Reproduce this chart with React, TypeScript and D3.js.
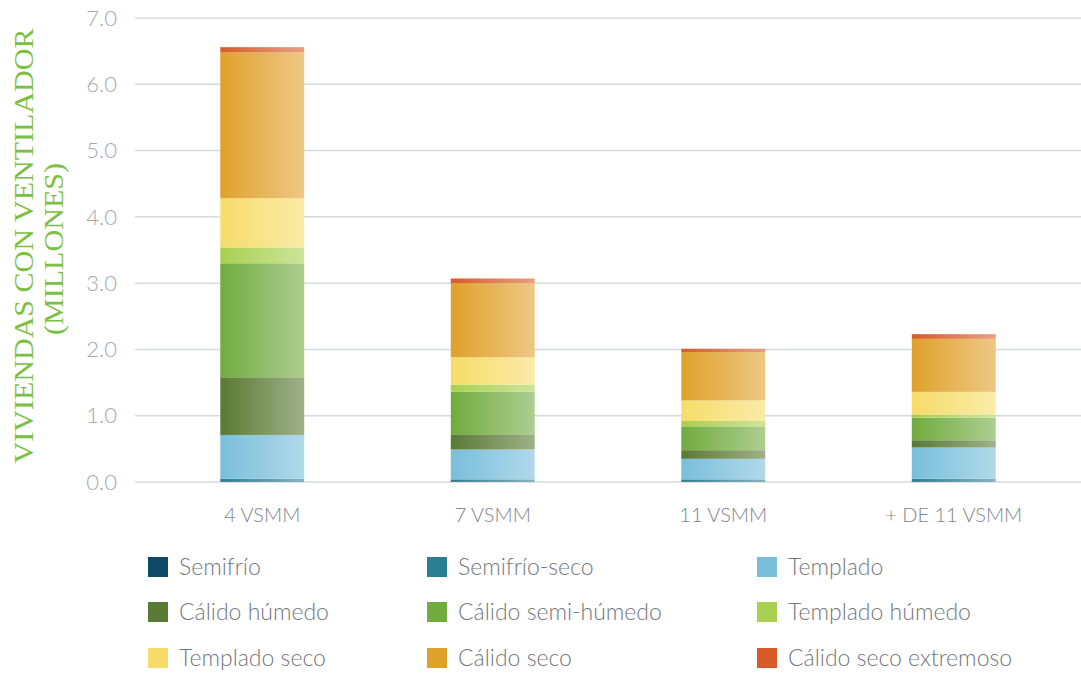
import React from "react";
import * as d3 from "d3";

const categories = ["4 VSMM", "7 VSMM", "11 VSMM", "+ DE 11 VSMM"];
const seriesNames = [
  "Semifrío",
  "Semifrío-seco",
  "Templado",
  "Cálido húmedo",
  "Cálido semi-húmedo",
  "Templado húmedo",
  "Templado seco",
  "Cálido seco",
  "Cálido seco extremoso",
];
const seriesColors = [
  "#0e4a68",
  "#2a7f93",
  "#79bedb",
  "#5a7934",
  "#72ab3f",
  "#a9d04f",
  "#f6dc69",
  "#e0a12b",
  "#d75b28",
];
// values per series, in category order (millions)
const semifrio = [0.01, 0.01, 0.01, 0.01];
const semifrioSeco = [0.04, 0.03, 0.03, 0.04];
const templado = [0.66, 0.45, 0.31, 0.47];
const calidoHumedo = [0.87, 0.23, 0.13, 0.11];
const calidoSemiHumedo = [1.72, 0.64, 0.36, 0.34];
const templadoHumedo = [0.24, 0.11, 0.08, 0.05];
const templadoSeco = [0.74, 0.41, 0.31, 0.34];
const calidoSeco = [2.2, 1.12, 0.73, 0.8];
const calidoSecoExtremoso = [0.08, 0.07, 0.05, 0.07];
const seriesValues = [
  semifrio,
  semifrioSeco,
  templado,
  calidoHumedo,
  calidoSemiHumedo,
  templadoHumedo,
  templadoSeco,
  calidoSeco,
  calidoSecoExtremoso,
];
const yTicks = [0, 1, 2, 3, 4, 5, 6, 7];

const W = 1081;
const H = 675;
const SANS = "Lato, 'Open Sans', sans-serif";

export default function App() {
  const y = d3.scaleLinear().domain([0, 7]).range([482, 18]);
  const x = d3
    .scaleBand<string>()
    .domain(categories)
    .range([147, 1069])
    .paddingInner(0.636)
    .paddingOuter(0.318);

  const rows = categories.map((c, i) => {
    const r: any = { cat: c };
    seriesNames.forEach((s, j) => (r[s] = seriesValues[j][i]));
    return r;
  });
  const stacked = d3.stack<any>().keys(seriesNames)(rows);

  const legendCols = [148, 427, 757];
  const legendRows = [567, 612, 658];

  return (
    <svg
      width={W}
      height={H}
      style={{ position: "absolute", left: 0, top: 0, background: "#fff" }}
    >
      <defs>
        {seriesColors.map((c, i) => (
          <linearGradient key={i} id={`g${i}`} x1="0" x2="1" y1="0" y2="0">
            <stop offset="0" stopColor={c} />
            <stop offset="1" stopColor={d3.interpolateRgb(c, "#ffffff")(0.42)} />
          </linearGradient>
        ))}
      </defs>
      {yTicks.map((t) => (
        <g key={t}>
          <line
            x1={135}
            x2={W}
            y1={y(t)}
            y2={y(t)}
            stroke="#d6d9dd"
            strokeWidth={1.5}
          />
          <text
            x={117}
            y={y(t)}
            dy="0.35em"
            textAnchor="end"
            fontFamily={SANS}
            fontWeight={300}
            fontSize={22}
            fill="#a3a8ae"
          >
            {t.toFixed(1)}
          </text>
        </g>
      ))}
      {stacked.map((layer, j) =>
        layer.map((d, i) => (
          <rect
            key={`${j}-${i}`}
            x={x(categories[i])}
            width={x.bandwidth()}
            y={y(d[1])}
            height={Math.max(0, y(d[0]) - y(d[1]))}
            fill={`url(#g${j})`}
          />
        ))
      )}
      {categories.map((c) => (
        <text
          key={c}
          x={(x(c) as number) + x.bandwidth() / 2}
          y={522}
          textAnchor="middle"
          fontFamily={SANS}
          fontWeight={300}
          fontSize={20}
          fill="#80858c"
        >
          {c}
        </text>
      ))}
      <g fontFamily="'Liberation Serif', 'DejaVu Serif', serif" fill="#7cc043">
        <text
          transform="translate(33,246) rotate(-90)"
          textAnchor="middle"
          fontSize={28}
          textLength={435}
          lengthAdjust="spacingAndGlyphs"
        >
          VIVIENDAS CON VENTILADOR
        </text>
        <text
          transform="translate(63,249) rotate(-90)"
          textAnchor="middle"
          fontSize={28}
          textLength={172}
          lengthAdjust="spacingAndGlyphs"
        >
          (MILLONES)
        </text>
      </g>
      {seriesNames.map((s, i) => {
        const cx = legendCols[i % 3];
        const cy = legendRows[Math.floor(i / 3)];
        return (
          <g key={s}>
            <rect x={cx} y={cy - 10} width={20} height={20} fill={seriesColors[i]} />
            <text
              x={cx + 31}
              y={cy}
              dy="0.35em"
              fontFamily={SANS}
              fontWeight={300}
              fontSize={23}
              fill="#72777d"
            >
              {s}
            </text>
          </g>
        );
      })}
    </svg>
  );
}
